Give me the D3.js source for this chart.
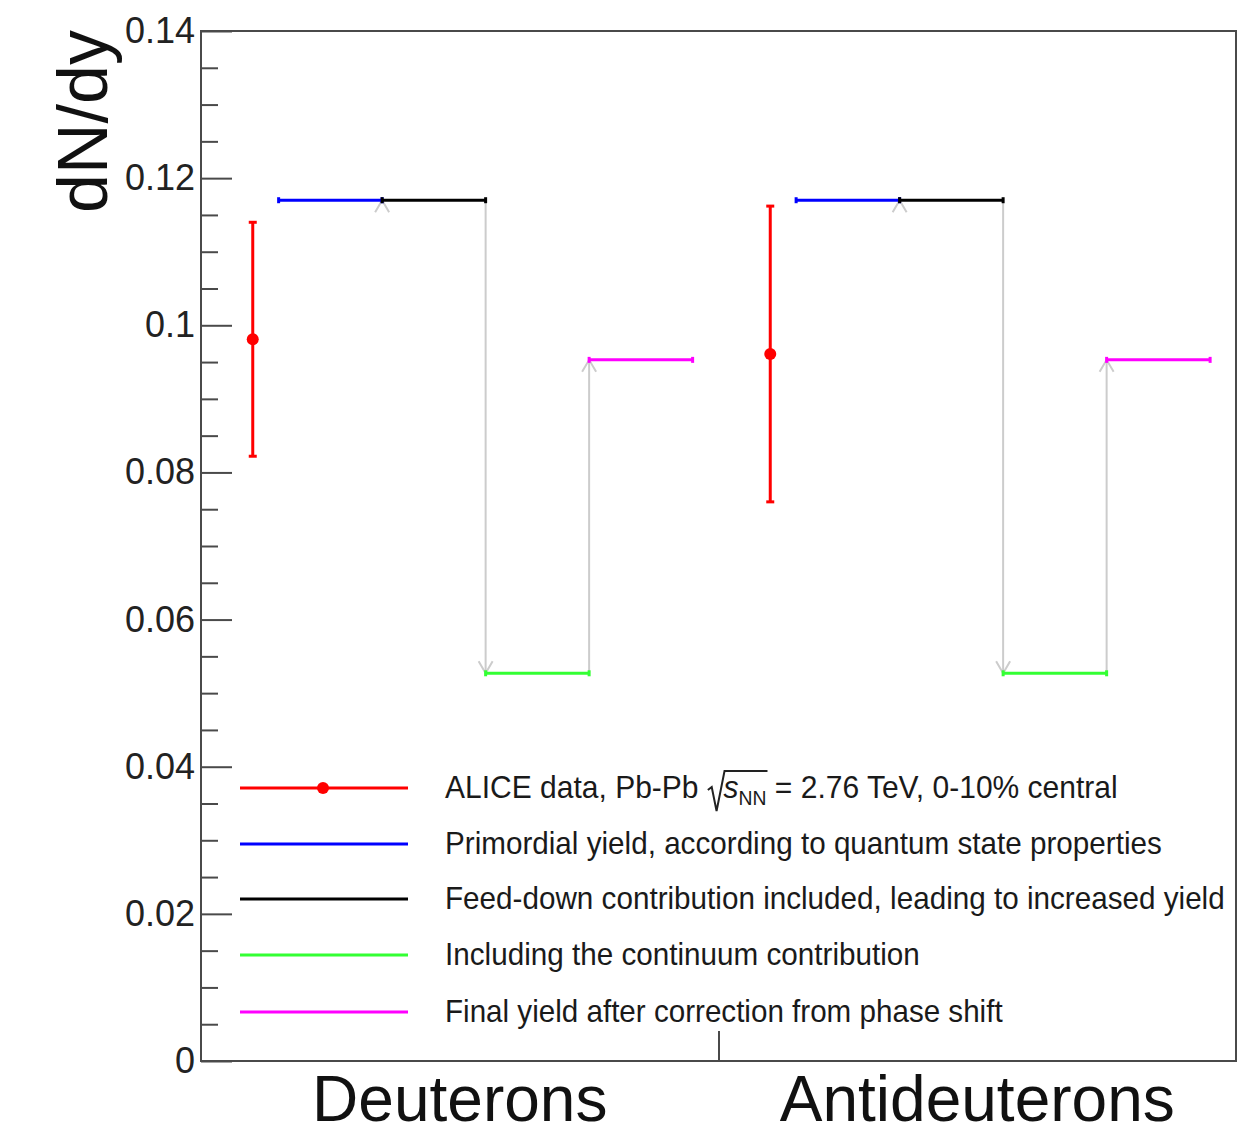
<!DOCTYPE html>
<html><head><meta charset="utf-8">
<script src="https://cdn.jsdelivr.net/npm/d3@7"></script>
<style>body{margin:0;background:#fff} svg{display:block}</style>
</head><body>
<svg id="c" width="1260" height="1135"></svg>
<script>
// ---- data ----
const categories = ["Deuterons", "Antideuterons"];
const aliceValue = [0.0981, 0.0961];
const aliceError = [0.0159, 0.0201];
const primordialYield = [0.1170, 0.1170];
const feedDownYield = [0.1170, 0.1170];
const continuumYield = [0.0527, 0.0527];
const finalYield = [0.0953, 0.0953];
const yTickValues = [0, 0.02, 0.04, 0.06, 0.08, 0.1, 0.12, 0.14];
const yTickLabels = ["0", "0.02", "0.04", "0.06", "0.08", "0.1", "0.12", "0.14"];
const seriesNames = ["alice", "primordial", "feeddown", "continuum", "final"];
const legendLabels = [
  "ALICE data, Pb-Pb",
  "Primordial yield, according to quantum state properties",
  "Feed-down contribution included, leading to increased yield",
  "Including the continuum contribution",
  "Final yield after correction from phase shift"
];
const colors = {alice: "#ff0000", primordial: "#0000ff", feeddown: "#000000", continuum: "#33ff33", final: "#ff00ff"};

// ---- layout ----
const L = 201, R = 1236, T = 31, B = 1061;
const svg = d3.select("#c");
const x = d3.scaleLinear().domain([0, 2]).range([L, R]);
const y = d3.scaleLinear().domain([0, 0.14]).range([B, T]);
const alicePos = 0.1;
const stageEdges = [0.15, 0.35, 0.55, 0.75, 0.95];
const FONT = "'Liberation Sans', Arial, Helvetica, sans-serif";
const frameColor = "#4a4a4a";
const arrowColor = "#cccccc";

// frame
svg.append("rect").attr("x", L).attr("y", T).attr("width", R - L).attr("height", B - T)
  .attr("fill", "none").attr("stroke", frameColor).attr("stroke-width", 2);

// y axis ticks
const minorVals = d3.range(0, 0.1401, 0.005).filter(v => !yTickValues.some(t => Math.abs(t - v) < 1e-9));
const gMajor = svg.append("g").attr("transform", `translate(${L},0)`)
  .call(d3.axisRight(y).tickValues(yTickValues).tickSize(31).tickFormat(""));
const gMinor = svg.append("g").attr("transform", `translate(${L},0)`)
  .call(d3.axisRight(y).tickValues(minorVals).tickSize(17).tickFormat(""));
[gMajor, gMinor].forEach(g => {
  g.select(".domain").remove();
  g.selectAll("line").attr("stroke", frameColor).attr("stroke-width", 2);
});
const gLab = svg.append("g").attr("transform", `translate(${L},0)`)
  .call(d3.axisLeft(y).tickValues(yTickValues).tickSize(0).tickPadding(6)
    .tickFormat((d, i) => yTickLabels[i]));
gLab.select(".domain").remove();
gLab.selectAll("text").attr("font-family", FONT).attr("font-size", 36).attr("fill", "#222");

// x axis: center tick only
const gx = svg.append("g").attr("transform", `translate(0,${B})`)
  .call(d3.axisBottom(x).tickValues([1]).tickSize(-30).tickFormat(""));
gx.select(".domain").remove();
gx.selectAll("line").attr("stroke", frameColor).attr("stroke-width", 2);

// category labels
svg.append("g").selectAll("text").data(categories).join("text")
  .attr("x", (d, i) => x(i + 0.5)).attr("y", 1121)
  .attr("text-anchor", "middle").attr("font-family", FONT).attr("font-size", 64)
  .attr("fill", "#111").text(d => d);

// y title
svg.append("text").attr("transform", "translate(107,30) rotate(-90)")
  .attr("text-anchor", "end").attr("font-family", FONT).attr("font-size", 70)
  .attr("fill", "#111").text("dN/dy");

// arrowhead helper
function arrowHead(g, px, py, dir) { // dir: -1 up, +1 down
  const s = 12, w = 7;
  g.append("path").attr("d", `M${px - w},${py - dir * s} L${px},${py} L${px + w},${py - dir * s}`)
    .attr("fill", "none").attr("stroke", arrowColor).attr("stroke-width", 2);
}

const plot = svg.append("g");
categories.forEach((c, i) => {
  const stages = [primordialYield[i], feedDownYield[i], continuumYield[i], finalYield[i]];
  const keys = ["primordial", "feeddown", "continuum", "final"];
  for (let k = 1; k < stages.length; k++) {
    const xe = x(i + stageEdges[k]);
    const y0 = y(stages[k - 1]), y1 = y(stages[k]);
    plot.append("line").attr("x1", xe).attr("x2", xe).attr("y1", y0).attr("y2", y1)
      .attr("stroke", arrowColor).attr("stroke-width", 2);
    arrowHead(plot, xe, y1, stages[k] < stages[k - 1] ? 1 : -1);
  }
  stages.forEach((v, k) => {
    const x0 = x(i + stageEdges[k]), x1 = x(i + stageEdges[k + 1]);
    plot.append("line").attr("x1", x0).attr("x2", x1).attr("y1", y(v)).attr("y2", y(v))
      .attr("stroke", colors[keys[k]]).attr("stroke-width", 3);
    [x0, x1].forEach(xx => plot.append("line").attr("x1", xx).attr("x2", xx)
      .attr("y1", y(v) - 3).attr("y2", y(v) + 3).attr("stroke", colors[keys[k]]).attr("stroke-width", 3));
  });
  const xa = x(i + alicePos);
  plot.append("line").attr("x1", xa).attr("x2", xa)
    .attr("y1", y(aliceValue[i] - aliceError[i])).attr("y2", y(aliceValue[i] + aliceError[i]))
    .attr("stroke", colors.alice).attr("stroke-width", 3);
  [aliceValue[i] - aliceError[i], aliceValue[i] + aliceError[i]].forEach(v =>
    plot.append("line").attr("x1", xa - 4).attr("x2", xa + 4).attr("y1", y(v)).attr("y2", y(v))
      .attr("stroke", colors.alice).attr("stroke-width", 3));
  plot.append("circle").attr("cx", xa).attr("cy", y(aliceValue[i])).attr("r", 6).attr("fill", colors.alice);
});

// legend
const legRowsY = [788, 844, 899, 955, 1012];
const legTargetRight = [1118, 1162, 1225, 920, 1003];
const leg = svg.append("g");
seriesNames.forEach((s, i) => {
  const yy = legRowsY[i];
  leg.append("line").attr("x1", 240).attr("x2", 408).attr("y1", yy).attr("y2", yy)
    .attr("stroke", colors[s]).attr("stroke-width", 3);
  if (s === "alice") leg.append("circle").attr("cx", 323).attr("cy", yy).attr("r", 6).attr("fill", colors.alice);
  const g = leg.append("g");
  const t = g.append("text").attr("x", 0).attr("y", 0).attr("font-family", FONT)
    .attr("font-size", 31).attr("fill", "#1a1a1a");
  if (s === "alice") {
    t.append("tspan").text(legendLabels[i] + " ");
    t.append("tspan").text("\u00a0\u00a0");
    t.append("tspan").attr("font-style", "italic").text("s");
    t.append("tspan").attr("font-size", 20).attr("dy", 7).text("NN");
    t.append("tspan").attr("dy", -7).text(" = 2.76 TeV, 0-10% central");
  } else {
    t.text(legendLabels[i]);
  }
  const len = t.node().getComputedTextLength();
  const sx = (legTargetRight[i] - 445) / len;
  g.attr("transform", `translate(445,${yy + 10}) scale(${sx},1)`);
  if (s === "alice") {
    const n = (legendLabels[i] + " ").length;
    const rx0 = t.node().getStartPositionOfChar(n).x;
    const rx1 = t.node().getEndPositionOfChar(n + 1).x;
    const ex = t.node().getEndPositionOfChar(n + 4).x;
    g.append("path")
      .attr("d", `M${rx0 + 1},${-8} L${rx0 + 5},${-11} L${rx0 + 10},${13} L${rx1 + 1},${-27} L${ex + 1},${-27}`)
      .attr("fill", "none").attr("stroke", "#222").attr("stroke-width", 2)
      .attr("vector-effect", "non-scaling-stroke");
  }
});
</script>
</body></html>
